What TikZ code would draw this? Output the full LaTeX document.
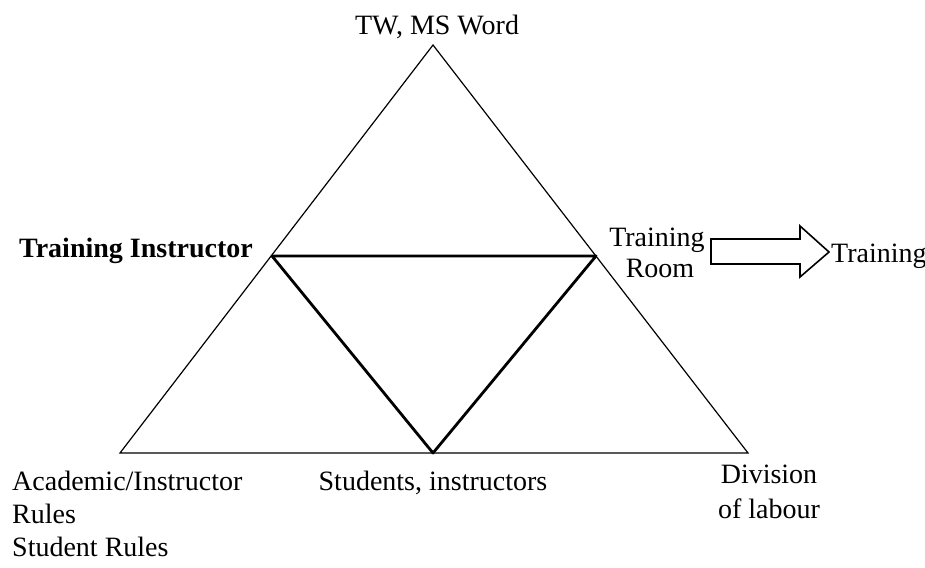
\documentclass[tikz,border=0pt]{standalone}
\usepackage{fontspec}
\setmainfont{Liberation Serif}
\begin{document}
\begin{tikzpicture}[x=1pt,y=-1pt,
  lbl/.style={inner sep=0pt,font=\fontsize{28}{33}\selectfont},
  outer/.style={line width=1.2pt,black},
  inner/.style={line width=2.8pt,black,line join=round},
  blockarrow/.style={line width=1.6pt,black,fill=white,line join=miter}]
\useasboundingbox[fill=white] (0,0) rectangle (925,567);
% vertices
\coordinate (A) at (433,45);
\coordinate (BL) at (120,453);
\coordinate (BR) at (748,453);
\coordinate (L) at (272,256);
\coordinate (R) at (596,256);
\coordinate (B) at (433,453);
\draw[outer] (A) -- (BL) -- (BR) -- cycle;
\draw[inner] (L) -- (R) -- (B) -- cycle;
% labels
\node[lbl,anchor=base] (tw) at (437,35) {TW, MS Word};
\node[lbl,anchor=base east,font=\fontsize{28}{33}\selectfont\bfseries] (ti) at (253,257) {Training Instructor};
\node[lbl,anchor=base,align=center] (tr1) at (657,246) {Training};
\node[lbl,anchor=base] (tr2) at (660,277) {Room};
\node[lbl,anchor=base west] (tout) at (831,262) {Training};
\node[lbl,anchor=base west] (ac1) at (12,490) {Academic/Instructor};
\node[lbl,anchor=base west] (ac2) at (12,523) {Rules};
\node[lbl,anchor=base west] (ac3) at (12,556) {Student Rules};
\node[lbl,anchor=base] (si) at (433,490) {Students, instructors};
\node[lbl,anchor=base] (dl1) at (769,483) {Division};
\node[lbl,anchor=base] (dl2) at (769,518) {of labour};
% block arrow
\coordinate (a1) at (711,239);
\coordinate (a2) at (800,239);
\coordinate (a3) at (800,226);
\coordinate (a4) at (829,252);
\coordinate (a5) at (800,277);
\coordinate (a6) at (800,264);
\coordinate (a7) at (711,264);
\draw[blockarrow] (a1) -- (a2) -- (a3) -- (a4) -- (a5) -- (a6) -- (a7) -- cycle;
\end{tikzpicture}
\end{document}
